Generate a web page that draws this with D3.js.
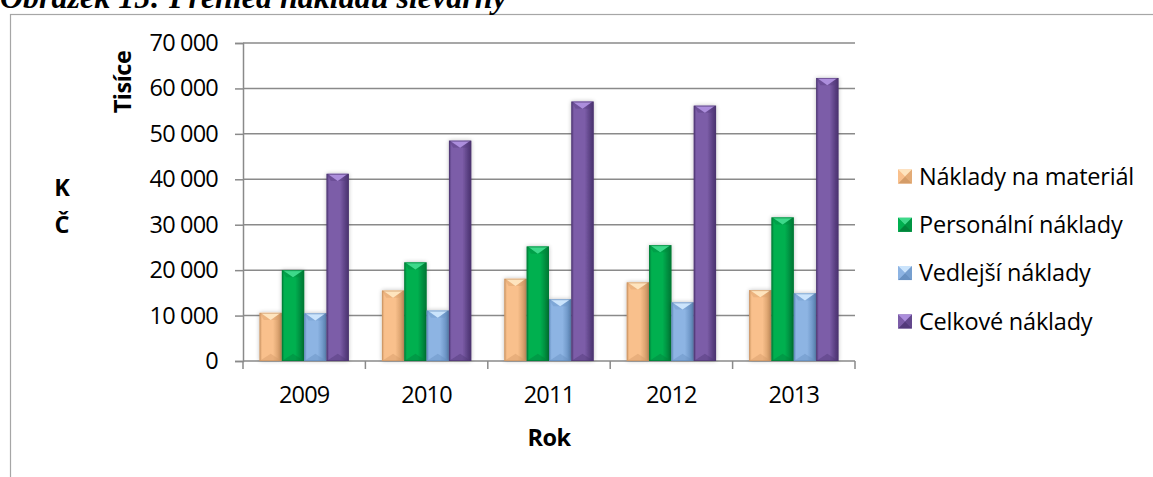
<!DOCTYPE html>
<html><head><meta charset="utf-8">
<script src="https://cdn.jsdelivr.net/npm/d3@7"></script>
<style>body{margin:0;background:#fff;} svg{display:block;}</style>
</head><body><svg id="c" width="1153" height="477"></svg>
<script>
const years = ["2009","2010","2011","2012","2013"];
const seriesNames = ["Náklady na materiál","Personální náklady","Vedlejší náklady","Celkové náklady"];
const material = [10600,15500,18100,17300,15600];
const personal = [20000,21700,25200,25500,31600];
const vedlejsi = [10500,11100,13600,12900,14900];
const celkove  = [41200,48500,57100,56200,62300];
const yTicks = [0,10000,20000,30000,40000,50000,60000,70000];
const titleText = "Obrázek 15:  Přehled nákladů slévárny";
const yAxisTitle = "Tisíce";
const yUnitLines = ["K","Č"];
const xAxisTitle = "Rok";

const seriesValues = [material, personal, vedlejsi, celkove];
const palette = [
  {base:"#F9C08C", light:"#FEE4BE", dark:"#D49C68", edge:"#C89262"},
  {base:"#00B050", light:"#3ED98A", dark:"#00833A", edge:"#007A35"},
  {base:"#8DB4E3", light:"#CBE4FC", dark:"#6891C2", edge:"#6088B8"},
  {base:"#7C5DA8", light:"#AC8EDC", dark:"#533A7A", edge:"#4C3570"}
];

const svg = d3.select("#c");
const FONT = "'Open Sans', Lato, sans-serif";
const FS = 23.5;

// defs
const defs = svg.append("defs");
palette.forEach((p,i)=>{
  const g = defs.append("linearGradient").attr("id","g"+i).attr("x1","0").attr("x2","1").attr("y1","0").attr("y2","0");
  g.append("stop").attr("offset","0").attr("stop-color",p.dark);
  g.append("stop").attr("offset","0.12").attr("stop-color",p.base);
  g.append("stop").attr("offset","0.6").attr("stop-color",p.base);
  g.append("stop").attr("offset","0.9").attr("stop-color",p.dark);
  g.append("stop").attr("offset","1").attr("stop-color",p.edge);
});
const f = defs.append("filter").attr("id","sh").attr("x","-30%").attr("y","-10%").attr("width","160%").attr("height","120%");
f.append("feGaussianBlur").attr("in","SourceAlpha").attr("stdDeviation","2").attr("result","b");
f.append("feOffset").attr("in","b").attr("dx","0").attr("dy","0").attr("result","o");
f.append("feComponentTransfer").attr("in","o").attr("result","o2").append("feFuncA").attr("type","linear").attr("slope","0.25");
const fm = f.append("feMerge"); fm.append("feMergeNode").attr("in","o2"); fm.append("feMergeNode").attr("in","SourceGraphic");

// frame
svg.append("rect").attr("x",10.5).attr("y",14.5).attr("width",1200).attr("height",600)
  .attr("fill","none").attr("stroke","#a6a6a6").attr("stroke-width",1.2);

// title (cut off at the top edge, as in the reference)
svg.append("text").attr("x",0).attr("y",8).text(titleText)
  .attr("font-family","'Liberation Serif', 'Times New Roman', serif").attr("font-weight","bold").attr("font-style","italic")
  .attr("font-size",32).attr("fill","#000");

const x = d3.scaleBand().domain(years).range([243,855]).paddingInner(0.27).paddingOuter(0.135);
const xi = d3.scaleBand().domain(d3.range(seriesNames.length)).range([0,x.bandwidth()]).padding(0);
const y = d3.scaleLinear().domain([0,70000]).range([361,43]);

const fmt = v => d3.format(",")(v).replace(/,/g," ");

// gridlines
svg.append("g").selectAll("line").data(yTicks.filter(d=>d>0)).join("line")
  .attr("x1",243).attr("x2",855).attr("y1",d=>y(d)).attr("y2",d=>y(d))
  .attr("stroke","#8a8a8a").attr("stroke-width",1.5);

// y axis
const ya = svg.append("g").attr("transform","translate(243,0)")
  .call(d3.axisLeft(y).tickValues(yTicks).tickSize(8).tickPadding(17).tickFormat(fmt));
ya.select(".domain").attr("stroke","#8a8a8a").attr("stroke-width",1.5);
ya.selectAll(".tick line").attr("stroke","#8a8a8a").attr("stroke-width",1.5);
ya.selectAll("text").attr("font-family",FONT).attr("font-size",FS).attr("fill","#000").attr("letter-spacing",-0.8);

// x axis
const step = x.step();
const bounds = years.map(d => x(d) - (step - x.bandwidth())/2).concat([x(years[years.length-1]) + x.bandwidth() + (step - x.bandwidth())/2]);
svg.append("line").attr("x1",243).attr("x2",855).attr("y1",y(0)).attr("y2",y(0)).attr("stroke","#8a8a8a").attr("stroke-width",1.5);
svg.append("g").selectAll("line").data(bounds).join("line")
  .attr("x1",d=>d).attr("x2",d=>d).attr("y1",y(0)).attr("y2",y(0)+8).attr("stroke","#8a8a8a").attr("stroke-width",1.5);
svg.append("g").selectAll("text").data(years).join("text")
  .attr("x",d=>x(d)+x.bandwidth()/2).attr("y",395).attr("dy","0.35em").attr("text-anchor","middle")
  .attr("font-family",FONT).attr("font-size",FS).attr("letter-spacing",-0.8).text(d=>d);

// bars
const barData = [];
years.forEach((yr,gi)=>{
  seriesValues.forEach((vals,si)=>{ barData.push({yr, si, v: vals[gi]}); });
});
const bars = svg.append("g").selectAll("g").data(barData).join("g").attr("filter","url(#sh)");
bars.each(function(d){
  const g = d3.select(this);
  const p = palette[d.si];
  const bx = x(d.yr) + xi(d.si), bw = xi.bandwidth(), top = y(d.v), bot = y(0);
  const dep = Math.min(bw*0.32, (bot-top)/2);
  g.append("rect").attr("x",bx).attr("y",top).attr("width",bw).attr("height",bot-top).attr("fill","url(#g"+d.si+")");
  g.append("path").attr("d",`M${bx},${top}L${bx+bw},${top}L${bx+bw-dep*0.6},${top+dep}L${bx+dep*0.6},${top+dep}Z`).attr("fill",p.dark).attr("opacity",0.35);
  g.append("path").attr("d",`M${bx+1},${top}L${bx+bw-1},${top}L${bx+bw/2},${top+dep}Z`).attr("fill",p.light);
  g.append("path").attr("d",`M${bx},${bot}L${bx+bw},${bot}L${bx+bw/2},${bot-dep}Z`).attr("fill",p.dark).attr("opacity",0.45);
  g.append("rect").attr("x",bx+0.5).attr("y",top+0.5).attr("width",bw-1).attr("height",bot-top-1).attr("fill","none").attr("stroke",p.edge).attr("stroke-width",1).attr("opacity",0.6);
});

// legend
const lg = svg.append("g").selectAll("g").data(seriesNames).join("g")
  .attr("transform",(d,i)=>`translate(898,${176.5 + i*48.3})`);
lg.each(function(d,i){
  const g = d3.select(this), p = palette[i], s = 14, h = s/2;
  g.append("rect").attr("x",0).attr("y",-h).attr("width",s).attr("height",s).attr("fill",p.base);
  g.append("path").attr("d",`M0,${-h}L${s},${-h}L${h},0Z`).attr("fill",p.light);
  g.append("path").attr("d",`M0,${h}L${s},${h}L${h},0Z`).attr("fill",p.dark);
  g.append("path").attr("d",`M0,${-h}L0,${h}L${h},0Z`).attr("fill",p.base);
  g.append("path").attr("d",`M${s},${-h}L${s},${h}L${h},0Z`).attr("fill",p.dark).attr("opacity",0.6);
  g.append("text").attr("x",21).attr("y",0).attr("dy","0.35em").attr("font-family",FONT).attr("font-size",FS).attr("letter-spacing",-0.2).text(d);
});

// axis titles
svg.append("text").attr("transform","translate(123,82) rotate(-90)").attr("text-anchor","middle").attr("dy","0.35em")
  .attr("font-family",FONT).attr("font-weight","bold").attr("font-size",FS).attr("letter-spacing",-0.5).text(yAxisTitle);
svg.append("g").selectAll("text").data(yUnitLines).join("text")
  .attr("x",62).attr("y",(d,i)=>188+i*37).attr("dy","0.35em").attr("text-anchor","middle")
  .attr("font-family",FONT).attr("font-weight","bold").attr("font-size",FS).text(d=>d);
svg.append("text").attr("x",549).attr("y",438).attr("dy","0.35em").attr("text-anchor","middle")
  .attr("font-family",FONT).attr("font-weight","bold").attr("font-size",FS).attr("letter-spacing",-0.5).text(xAxisTitle);
</script></body></html>
